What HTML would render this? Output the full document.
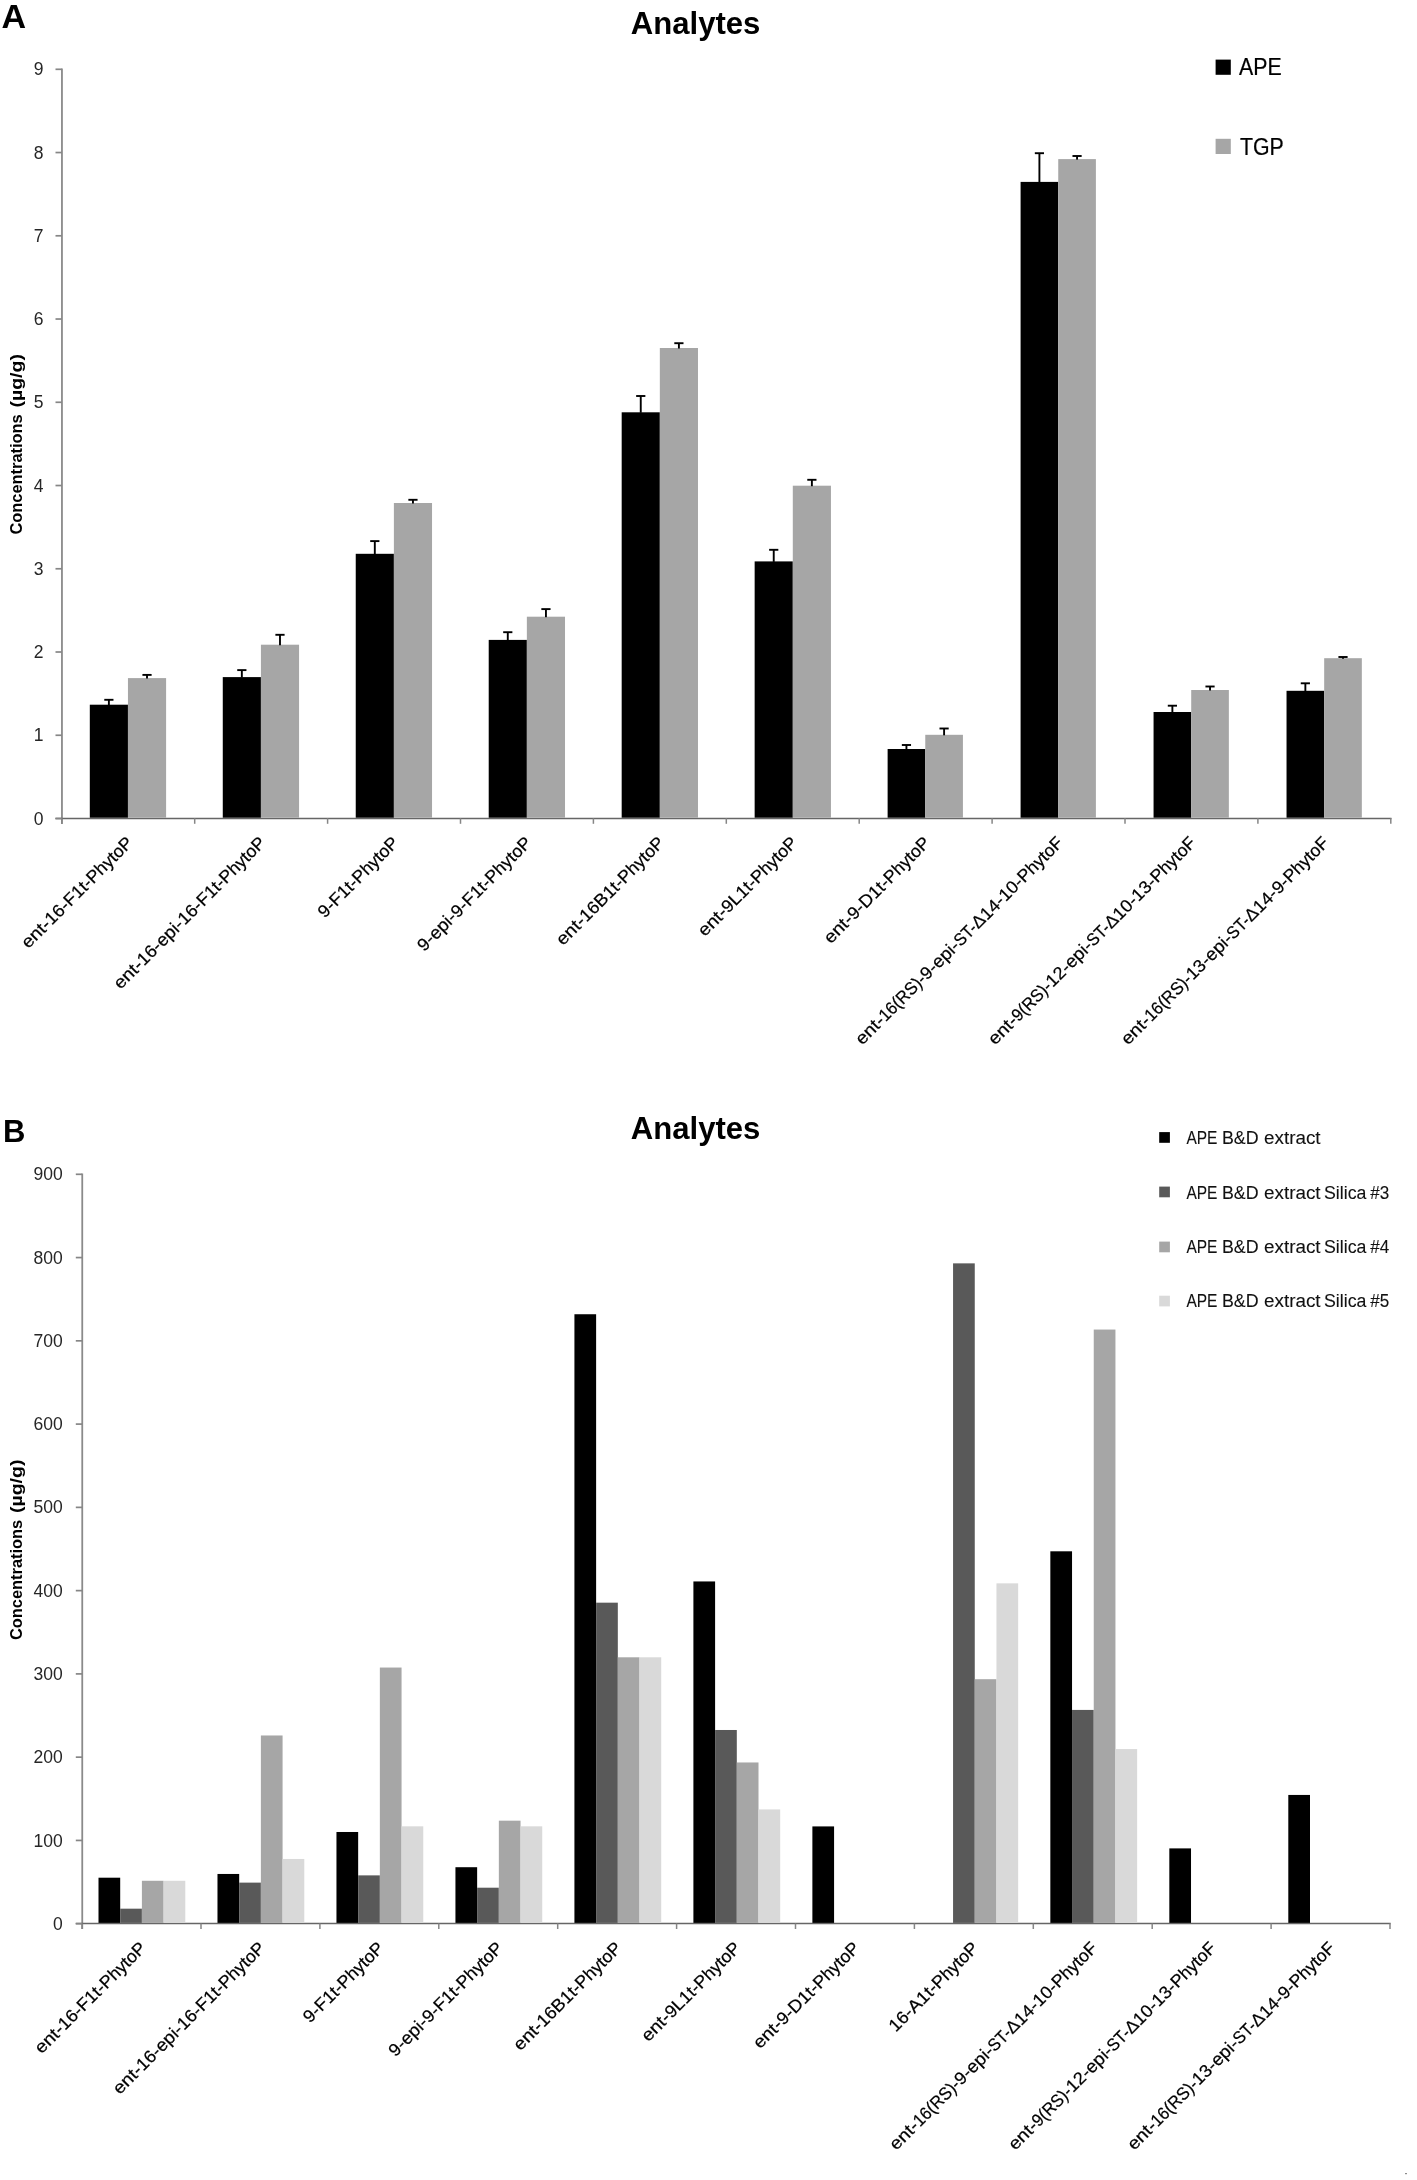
<!DOCTYPE html>
<html><head><meta charset="utf-8"><title>Analytes</title>
<style>html,body{margin:0;padding:0;background:#fff}svg{display:block;filter:grayscale(1)}text{font-family:"Liberation Sans", sans-serif}</style>
</head><body>
<svg width="1417" height="2180" viewBox="0 0 1417 2180" font-family='"Liberation Sans", sans-serif'>
<rect width="1417" height="2180" fill="#fff"/>
<text x="1.60" y="28.20" font-size="34" text-anchor="start" font-weight="bold" textLength="24.60" lengthAdjust="spacingAndGlyphs" fill="#000">A</text>
<text x="630.80" y="33.90" font-size="31" text-anchor="start" font-weight="bold" textLength="129.60" lengthAdjust="spacingAndGlyphs" fill="#000">Analytes</text>
<g transform="translate(22.10 534.50) rotate(-90)" font-size="17.1" fill="#000" font-weight="bold">
<text x="0.00" y="0" textLength="120.20" lengthAdjust="spacingAndGlyphs">Concentrations</text>
<text x="126.90" y="0" textLength="53.60" lengthAdjust="spacingAndGlyphs">(µg/g)</text>
</g>
<line x1="61.95" y1="68.40" x2="61.95" y2="823.90" stroke="#8a8a8a" stroke-width="1.8"/>
<line x1="55.40" y1="818.40" x2="1391.50" y2="818.40" stroke="#666" stroke-width="1.5"/>
<line x1="55.50" y1="818.50" x2="61.80" y2="818.50" stroke="#868686" stroke-width="1.7"/>
<text x="43.60" y="824.60" font-size="17.6" text-anchor="end" textLength="9.75" lengthAdjust="spacingAndGlyphs" fill="#262626">0</text>
<line x1="55.50" y1="735.26" x2="61.80" y2="735.26" stroke="#868686" stroke-width="1.7"/>
<text x="43.60" y="741.36" font-size="17.6" text-anchor="end" textLength="9.75" lengthAdjust="spacingAndGlyphs" fill="#262626">1</text>
<line x1="55.50" y1="652.01" x2="61.80" y2="652.01" stroke="#868686" stroke-width="1.7"/>
<text x="43.60" y="658.11" font-size="17.6" text-anchor="end" textLength="9.75" lengthAdjust="spacingAndGlyphs" fill="#262626">2</text>
<line x1="55.50" y1="568.77" x2="61.80" y2="568.77" stroke="#868686" stroke-width="1.7"/>
<text x="43.60" y="574.87" font-size="17.6" text-anchor="end" textLength="9.75" lengthAdjust="spacingAndGlyphs" fill="#262626">3</text>
<line x1="55.50" y1="485.52" x2="61.80" y2="485.52" stroke="#868686" stroke-width="1.7"/>
<text x="43.60" y="491.62" font-size="17.6" text-anchor="end" textLength="9.75" lengthAdjust="spacingAndGlyphs" fill="#262626">4</text>
<line x1="55.50" y1="402.28" x2="61.80" y2="402.28" stroke="#868686" stroke-width="1.7"/>
<text x="43.60" y="408.38" font-size="17.6" text-anchor="end" textLength="9.75" lengthAdjust="spacingAndGlyphs" fill="#262626">5</text>
<line x1="55.50" y1="319.03" x2="61.80" y2="319.03" stroke="#868686" stroke-width="1.7"/>
<text x="43.60" y="325.13" font-size="17.6" text-anchor="end" textLength="9.75" lengthAdjust="spacingAndGlyphs" fill="#262626">6</text>
<line x1="55.50" y1="235.79" x2="61.80" y2="235.79" stroke="#868686" stroke-width="1.7"/>
<text x="43.60" y="241.89" font-size="17.6" text-anchor="end" textLength="9.75" lengthAdjust="spacingAndGlyphs" fill="#262626">7</text>
<line x1="55.50" y1="152.54" x2="61.80" y2="152.54" stroke="#868686" stroke-width="1.7"/>
<text x="43.60" y="158.64" font-size="17.6" text-anchor="end" textLength="9.75" lengthAdjust="spacingAndGlyphs" fill="#262626">8</text>
<line x1="55.50" y1="69.30" x2="61.80" y2="69.30" stroke="#868686" stroke-width="1.7"/>
<text x="43.60" y="75.40" font-size="17.6" text-anchor="end" textLength="9.75" lengthAdjust="spacingAndGlyphs" fill="#262626">9</text>
<line x1="61.80" y1="818.30" x2="61.80" y2="823.80" stroke="#868686" stroke-width="1.5"/>
<line x1="194.70" y1="818.30" x2="194.70" y2="823.80" stroke="#868686" stroke-width="1.5"/>
<line x1="327.60" y1="818.30" x2="327.60" y2="823.80" stroke="#868686" stroke-width="1.5"/>
<line x1="460.50" y1="818.30" x2="460.50" y2="823.80" stroke="#868686" stroke-width="1.5"/>
<line x1="593.40" y1="818.30" x2="593.40" y2="823.80" stroke="#868686" stroke-width="1.5"/>
<line x1="726.30" y1="818.30" x2="726.30" y2="823.80" stroke="#868686" stroke-width="1.5"/>
<line x1="859.20" y1="818.30" x2="859.20" y2="823.80" stroke="#868686" stroke-width="1.5"/>
<line x1="992.10" y1="818.30" x2="992.10" y2="823.80" stroke="#868686" stroke-width="1.5"/>
<line x1="1125.00" y1="818.30" x2="1125.00" y2="823.80" stroke="#868686" stroke-width="1.5"/>
<line x1="1257.90" y1="818.30" x2="1257.90" y2="823.80" stroke="#868686" stroke-width="1.5"/>
<line x1="1390.80" y1="818.30" x2="1390.80" y2="823.80" stroke="#868686" stroke-width="1.5"/>
<rect x="89.80" y="704.70" width="38.15" height="113.00" fill="#000"/>
<line x1="108.88" y1="705.20" x2="108.88" y2="699.80" stroke="#000" stroke-width="1.9"/>
<line x1="104.28" y1="699.80" x2="113.47" y2="699.80" stroke="#000" stroke-width="1.9"/>
<rect x="127.95" y="678.10" width="38.15" height="139.60" fill="#a6a6a6"/>
<line x1="147.02" y1="678.60" x2="147.02" y2="674.90" stroke="#000" stroke-width="1.9"/>
<line x1="142.42" y1="674.90" x2="151.62" y2="674.90" stroke="#000" stroke-width="1.9"/>
<rect x="222.77" y="677.10" width="38.15" height="140.60" fill="#000"/>
<line x1="241.84" y1="677.60" x2="241.84" y2="670.10" stroke="#000" stroke-width="1.9"/>
<line x1="237.24" y1="670.10" x2="246.44" y2="670.10" stroke="#000" stroke-width="1.9"/>
<rect x="260.92" y="644.70" width="38.15" height="173.00" fill="#a6a6a6"/>
<line x1="279.99" y1="645.20" x2="279.99" y2="634.80" stroke="#000" stroke-width="1.9"/>
<line x1="275.39" y1="634.80" x2="284.59" y2="634.80" stroke="#000" stroke-width="1.9"/>
<rect x="355.74" y="553.80" width="38.15" height="263.90" fill="#000"/>
<line x1="374.81" y1="554.30" x2="374.81" y2="541.10" stroke="#000" stroke-width="1.9"/>
<line x1="370.21" y1="541.10" x2="379.42" y2="541.10" stroke="#000" stroke-width="1.9"/>
<rect x="393.89" y="503.00" width="38.15" height="314.70" fill="#a6a6a6"/>
<line x1="412.96" y1="503.50" x2="412.96" y2="499.80" stroke="#000" stroke-width="1.9"/>
<line x1="408.36" y1="499.80" x2="417.56" y2="499.80" stroke="#000" stroke-width="1.9"/>
<rect x="488.71" y="639.90" width="38.15" height="177.80" fill="#000"/>
<line x1="507.78" y1="640.40" x2="507.78" y2="632.20" stroke="#000" stroke-width="1.9"/>
<line x1="503.18" y1="632.20" x2="512.38" y2="632.20" stroke="#000" stroke-width="1.9"/>
<rect x="526.86" y="616.70" width="38.15" height="201.00" fill="#a6a6a6"/>
<line x1="545.94" y1="617.20" x2="545.94" y2="609.10" stroke="#000" stroke-width="1.9"/>
<line x1="541.34" y1="609.10" x2="550.54" y2="609.10" stroke="#000" stroke-width="1.9"/>
<rect x="621.68" y="412.30" width="38.15" height="405.40" fill="#000"/>
<line x1="640.75" y1="412.80" x2="640.75" y2="396.00" stroke="#000" stroke-width="1.9"/>
<line x1="636.15" y1="396.00" x2="645.36" y2="396.00" stroke="#000" stroke-width="1.9"/>
<rect x="659.83" y="348.00" width="38.15" height="469.70" fill="#a6a6a6"/>
<line x1="678.90" y1="348.50" x2="678.90" y2="343.20" stroke="#000" stroke-width="1.9"/>
<line x1="674.30" y1="343.20" x2="683.50" y2="343.20" stroke="#000" stroke-width="1.9"/>
<rect x="754.65" y="561.40" width="38.15" height="256.30" fill="#000"/>
<line x1="773.73" y1="561.90" x2="773.73" y2="549.80" stroke="#000" stroke-width="1.9"/>
<line x1="769.12" y1="549.80" x2="778.33" y2="549.80" stroke="#000" stroke-width="1.9"/>
<rect x="792.80" y="485.70" width="38.15" height="332.00" fill="#a6a6a6"/>
<line x1="811.88" y1="486.20" x2="811.88" y2="479.80" stroke="#000" stroke-width="1.9"/>
<line x1="807.27" y1="479.80" x2="816.48" y2="479.80" stroke="#000" stroke-width="1.9"/>
<rect x="887.62" y="749.00" width="37.65" height="68.70" fill="#000"/>
<line x1="906.44" y1="749.50" x2="906.44" y2="745.00" stroke="#000" stroke-width="1.9"/>
<line x1="901.84" y1="745.00" x2="911.04" y2="745.00" stroke="#000" stroke-width="1.9"/>
<rect x="925.27" y="734.80" width="37.65" height="82.90" fill="#a6a6a6"/>
<line x1="944.09" y1="735.30" x2="944.09" y2="728.50" stroke="#000" stroke-width="1.9"/>
<line x1="939.49" y1="728.50" x2="948.69" y2="728.50" stroke="#000" stroke-width="1.9"/>
<rect x="1020.59" y="181.90" width="37.65" height="635.80" fill="#000"/>
<line x1="1039.41" y1="182.40" x2="1039.41" y2="153.20" stroke="#000" stroke-width="1.9"/>
<line x1="1034.82" y1="153.20" x2="1044.01" y2="153.20" stroke="#000" stroke-width="1.9"/>
<rect x="1058.24" y="159.10" width="37.65" height="658.60" fill="#a6a6a6"/>
<line x1="1077.07" y1="159.60" x2="1077.07" y2="156.00" stroke="#000" stroke-width="1.9"/>
<line x1="1072.47" y1="156.00" x2="1081.66" y2="156.00" stroke="#000" stroke-width="1.9"/>
<rect x="1153.56" y="712.00" width="37.65" height="105.70" fill="#000"/>
<line x1="1172.38" y1="712.50" x2="1172.38" y2="705.70" stroke="#000" stroke-width="1.9"/>
<line x1="1167.79" y1="705.70" x2="1176.98" y2="705.70" stroke="#000" stroke-width="1.9"/>
<rect x="1191.21" y="690.00" width="37.65" height="127.70" fill="#a6a6a6"/>
<line x1="1210.04" y1="690.50" x2="1210.04" y2="686.50" stroke="#000" stroke-width="1.9"/>
<line x1="1205.44" y1="686.50" x2="1214.63" y2="686.50" stroke="#000" stroke-width="1.9"/>
<rect x="1286.53" y="690.80" width="37.65" height="126.90" fill="#000"/>
<line x1="1305.36" y1="691.30" x2="1305.36" y2="683.30" stroke="#000" stroke-width="1.9"/>
<line x1="1300.76" y1="683.30" x2="1309.95" y2="683.30" stroke="#000" stroke-width="1.9"/>
<rect x="1324.18" y="658.20" width="37.65" height="159.50" fill="#a6a6a6"/>
<line x1="1343.01" y1="658.70" x2="1343.01" y2="657.00" stroke="#000" stroke-width="1.9"/>
<line x1="1338.41" y1="657.00" x2="1347.61" y2="657.00" stroke="#000" stroke-width="1.9"/>
<g transform="translate(133.85 843.80) rotate(-45)" font-size="17.6" fill="#000" stroke="#000" stroke-width="0.22">
<text x="-149.30" y="0" textLength="33.28" lengthAdjust="spacingAndGlyphs">ent-</text>
<text x="-116.02" y="0" textLength="26.40" lengthAdjust="spacingAndGlyphs">16-</text>
<text x="-89.62" y="0" textLength="32.14" lengthAdjust="spacingAndGlyphs">F1t-</text>
<text x="-57.48" y="0" textLength="57.48" lengthAdjust="spacingAndGlyphs">PhytoP</text>
</g>
<g transform="translate(266.75 843.80) rotate(-45)" font-size="17.6" fill="#000" stroke="#000" stroke-width="0.22">
<text x="-206.86" y="0" textLength="33.28" lengthAdjust="spacingAndGlyphs">ent-</text>
<text x="-173.58" y="0" textLength="26.40" lengthAdjust="spacingAndGlyphs">16-</text>
<text x="-147.18" y="0" textLength="31.16" lengthAdjust="spacingAndGlyphs">epi-</text>
<text x="-116.02" y="0" textLength="26.40" lengthAdjust="spacingAndGlyphs">16-</text>
<text x="-89.62" y="0" textLength="32.14" lengthAdjust="spacingAndGlyphs">F1t-</text>
<text x="-57.48" y="0" textLength="57.48" lengthAdjust="spacingAndGlyphs">PhytoP</text>
</g>
<g transform="translate(399.65 843.80) rotate(-45)" font-size="17.6" fill="#000" stroke="#000" stroke-width="0.22">
<text x="-105.88" y="0" textLength="16.26" lengthAdjust="spacingAndGlyphs">9-</text>
<text x="-89.62" y="0" textLength="32.14" lengthAdjust="spacingAndGlyphs">F1t-</text>
<text x="-57.48" y="0" textLength="57.48" lengthAdjust="spacingAndGlyphs">PhytoP</text>
</g>
<g transform="translate(532.55 843.80) rotate(-45)" font-size="17.6" fill="#000" stroke="#000" stroke-width="0.22">
<text x="-153.30" y="0" textLength="16.26" lengthAdjust="spacingAndGlyphs">9-</text>
<text x="-137.04" y="0" textLength="31.16" lengthAdjust="spacingAndGlyphs">epi-</text>
<text x="-105.88" y="0" textLength="16.26" lengthAdjust="spacingAndGlyphs">9-</text>
<text x="-89.62" y="0" textLength="32.14" lengthAdjust="spacingAndGlyphs">F1t-</text>
<text x="-57.48" y="0" textLength="57.48" lengthAdjust="spacingAndGlyphs">PhytoP</text>
</g>
<g transform="translate(665.45 843.80) rotate(-45)" font-size="17.6" fill="#000" stroke="#000" stroke-width="0.22">
<text x="-144.88" y="0" textLength="33.28" lengthAdjust="spacingAndGlyphs">ent-</text>
<text x="-111.60" y="0" textLength="54.12" lengthAdjust="spacingAndGlyphs">16B1t-</text>
<text x="-57.48" y="0" textLength="57.48" lengthAdjust="spacingAndGlyphs">PhytoP</text>
</g>
<g transform="translate(798.35 843.80) rotate(-45)" font-size="17.6" fill="#000" stroke="#000" stroke-width="0.22">
<text x="-132.26" y="0" textLength="33.28" lengthAdjust="spacingAndGlyphs">ent-</text>
<text x="-98.98" y="0" textLength="41.50" lengthAdjust="spacingAndGlyphs">9L1t-</text>
<text x="-57.48" y="0" textLength="57.48" lengthAdjust="spacingAndGlyphs">PhytoP</text>
</g>
<g transform="translate(931.25 843.80) rotate(-45)" font-size="17.6" fill="#000" stroke="#000" stroke-width="0.22">
<text x="-142.28" y="0" textLength="33.28" lengthAdjust="spacingAndGlyphs">ent-</text>
<text x="-109.00" y="0" textLength="16.26" lengthAdjust="spacingAndGlyphs">9-</text>
<text x="-92.74" y="0" textLength="35.26" lengthAdjust="spacingAndGlyphs">D1t-</text>
<text x="-57.48" y="0" textLength="57.48" lengthAdjust="spacingAndGlyphs">PhytoP</text>
</g>
<g transform="translate(1064.15 843.80) rotate(-45)" font-size="17.6" fill="#000" stroke="#000" stroke-width="0.22">
<text x="-285.66" y="0" textLength="33.28" lengthAdjust="spacingAndGlyphs">ent-</text>
<text x="-252.38" y="0" textLength="58.56" lengthAdjust="spacingAndGlyphs">16(RS)-</text>
<text x="-193.82" y="0" textLength="16.26" lengthAdjust="spacingAndGlyphs">9-</text>
<text x="-177.56" y="0" textLength="31.16" lengthAdjust="spacingAndGlyphs">epi-</text>
<text x="-146.40" y="0" textLength="25.04" lengthAdjust="spacingAndGlyphs">ST-</text>
<text x="-121.36" y="0" textLength="38.64" lengthAdjust="spacingAndGlyphs">Δ14-</text>
<text x="-82.72" y="0" textLength="26.40" lengthAdjust="spacingAndGlyphs">10-</text>
<text x="-56.32" y="0" textLength="56.32" lengthAdjust="spacingAndGlyphs">PhytoF</text>
</g>
<g transform="translate(1197.05 843.80) rotate(-45)" font-size="17.6" fill="#000" stroke="#000" stroke-width="0.22">
<text x="-285.66" y="0" textLength="33.28" lengthAdjust="spacingAndGlyphs">ent-</text>
<text x="-252.38" y="0" textLength="48.42" lengthAdjust="spacingAndGlyphs">9(RS)-</text>
<text x="-203.96" y="0" textLength="26.40" lengthAdjust="spacingAndGlyphs">12-</text>
<text x="-177.56" y="0" textLength="31.16" lengthAdjust="spacingAndGlyphs">epi-</text>
<text x="-146.40" y="0" textLength="25.04" lengthAdjust="spacingAndGlyphs">ST-</text>
<text x="-121.36" y="0" textLength="38.64" lengthAdjust="spacingAndGlyphs">Δ10-</text>
<text x="-82.72" y="0" textLength="26.40" lengthAdjust="spacingAndGlyphs">13-</text>
<text x="-56.32" y="0" textLength="56.32" lengthAdjust="spacingAndGlyphs">PhytoF</text>
</g>
<g transform="translate(1329.95 843.80) rotate(-45)" font-size="17.6" fill="#000" stroke="#000" stroke-width="0.22">
<text x="-285.66" y="0" textLength="33.28" lengthAdjust="spacingAndGlyphs">ent-</text>
<text x="-252.38" y="0" textLength="58.56" lengthAdjust="spacingAndGlyphs">16(RS)-</text>
<text x="-193.82" y="0" textLength="26.40" lengthAdjust="spacingAndGlyphs">13-</text>
<text x="-167.42" y="0" textLength="31.16" lengthAdjust="spacingAndGlyphs">epi-</text>
<text x="-136.26" y="0" textLength="25.04" lengthAdjust="spacingAndGlyphs">ST-</text>
<text x="-111.22" y="0" textLength="38.64" lengthAdjust="spacingAndGlyphs">Δ14-</text>
<text x="-72.58" y="0" textLength="16.26" lengthAdjust="spacingAndGlyphs">9-</text>
<text x="-56.32" y="0" textLength="56.32" lengthAdjust="spacingAndGlyphs">PhytoF</text>
</g>
<rect x="1215.60" y="59.60" width="15.20" height="15.20" fill="#000"/>
<text x="1239.00" y="74.90" font-size="23.3" text-anchor="start" stroke="#000" stroke-width="0.22" textLength="42.60" lengthAdjust="spacingAndGlyphs" fill="#000">APE</text>
<rect x="1215.60" y="138.80" width="15.20" height="15.20" fill="#a6a6a6"/>
<text x="1240.00" y="154.50" font-size="23.3" text-anchor="start" stroke="#000" stroke-width="0.22" textLength="43.80" lengthAdjust="spacingAndGlyphs" fill="#000">TGP</text>
<text x="3.00" y="1142.10" font-size="31" text-anchor="start" font-weight="bold" fill="#000">B</text>
<text x="630.80" y="1139.20" font-size="31" text-anchor="start" font-weight="bold" textLength="129.60" lengthAdjust="spacingAndGlyphs" fill="#000">Analytes</text>
<g transform="translate(22.20 1640.00) rotate(-90)" font-size="17.1" fill="#000" font-weight="bold">
<text x="0.00" y="0" textLength="120.20" lengthAdjust="spacingAndGlyphs">Concentrations</text>
<text x="126.90" y="0" textLength="53.60" lengthAdjust="spacingAndGlyphs">(µg/g)</text>
</g>
<line x1="82.25" y1="1173.40" x2="82.25" y2="1929.10" stroke="#8a8a8a" stroke-width="1.8"/>
<line x1="75.70" y1="1923.60" x2="1390.70" y2="1923.60" stroke="#666" stroke-width="1.5"/>
<line x1="75.80" y1="1923.70" x2="82.10" y2="1923.70" stroke="#868686" stroke-width="1.7"/>
<text x="62.80" y="1929.80" font-size="17.6" text-anchor="end" textLength="9.75" lengthAdjust="spacingAndGlyphs" fill="#262626">0</text>
<line x1="75.80" y1="1840.43" x2="82.10" y2="1840.43" stroke="#868686" stroke-width="1.7"/>
<text x="62.80" y="1846.53" font-size="17.6" text-anchor="end" textLength="29.25" lengthAdjust="spacingAndGlyphs" fill="#262626">100</text>
<line x1="75.80" y1="1757.17" x2="82.10" y2="1757.17" stroke="#868686" stroke-width="1.7"/>
<text x="62.80" y="1763.27" font-size="17.6" text-anchor="end" textLength="29.25" lengthAdjust="spacingAndGlyphs" fill="#262626">200</text>
<line x1="75.80" y1="1673.90" x2="82.10" y2="1673.90" stroke="#868686" stroke-width="1.7"/>
<text x="62.80" y="1680.00" font-size="17.6" text-anchor="end" textLength="29.25" lengthAdjust="spacingAndGlyphs" fill="#262626">300</text>
<line x1="75.80" y1="1590.63" x2="82.10" y2="1590.63" stroke="#868686" stroke-width="1.7"/>
<text x="62.80" y="1596.73" font-size="17.6" text-anchor="end" textLength="29.25" lengthAdjust="spacingAndGlyphs" fill="#262626">400</text>
<line x1="75.80" y1="1507.37" x2="82.10" y2="1507.37" stroke="#868686" stroke-width="1.7"/>
<text x="62.80" y="1513.47" font-size="17.6" text-anchor="end" textLength="29.25" lengthAdjust="spacingAndGlyphs" fill="#262626">500</text>
<line x1="75.80" y1="1424.10" x2="82.10" y2="1424.10" stroke="#868686" stroke-width="1.7"/>
<text x="62.80" y="1430.20" font-size="17.6" text-anchor="end" textLength="29.25" lengthAdjust="spacingAndGlyphs" fill="#262626">600</text>
<line x1="75.80" y1="1340.83" x2="82.10" y2="1340.83" stroke="#868686" stroke-width="1.7"/>
<text x="62.80" y="1346.93" font-size="17.6" text-anchor="end" textLength="29.25" lengthAdjust="spacingAndGlyphs" fill="#262626">700</text>
<line x1="75.80" y1="1257.57" x2="82.10" y2="1257.57" stroke="#868686" stroke-width="1.7"/>
<text x="62.80" y="1263.67" font-size="17.6" text-anchor="end" textLength="29.25" lengthAdjust="spacingAndGlyphs" fill="#262626">800</text>
<line x1="75.80" y1="1174.30" x2="82.10" y2="1174.30" stroke="#868686" stroke-width="1.7"/>
<text x="62.80" y="1180.40" font-size="17.6" text-anchor="end" textLength="29.25" lengthAdjust="spacingAndGlyphs" fill="#262626">900</text>
<line x1="82.10" y1="1923.50" x2="82.10" y2="1929.00" stroke="#868686" stroke-width="1.5"/>
<line x1="201.00" y1="1923.50" x2="201.00" y2="1929.00" stroke="#868686" stroke-width="1.5"/>
<line x1="319.90" y1="1923.50" x2="319.90" y2="1929.00" stroke="#868686" stroke-width="1.5"/>
<line x1="438.80" y1="1923.50" x2="438.80" y2="1929.00" stroke="#868686" stroke-width="1.5"/>
<line x1="557.70" y1="1923.50" x2="557.70" y2="1929.00" stroke="#868686" stroke-width="1.5"/>
<line x1="676.60" y1="1923.50" x2="676.60" y2="1929.00" stroke="#868686" stroke-width="1.5"/>
<line x1="795.50" y1="1923.50" x2="795.50" y2="1929.00" stroke="#868686" stroke-width="1.5"/>
<line x1="914.40" y1="1923.50" x2="914.40" y2="1929.00" stroke="#868686" stroke-width="1.5"/>
<line x1="1033.30" y1="1923.50" x2="1033.30" y2="1929.00" stroke="#868686" stroke-width="1.5"/>
<line x1="1152.20" y1="1923.50" x2="1152.20" y2="1929.00" stroke="#868686" stroke-width="1.5"/>
<line x1="1271.10" y1="1923.50" x2="1271.10" y2="1929.00" stroke="#868686" stroke-width="1.5"/>
<line x1="1390.00" y1="1923.50" x2="1390.00" y2="1929.00" stroke="#868686" stroke-width="1.5"/>
<rect x="98.50" y="1877.70" width="21.70" height="45.20" fill="#000"/>
<rect x="120.20" y="1908.68" width="21.70" height="14.22" fill="#595959"/>
<rect x="141.90" y="1880.78" width="21.70" height="42.12" fill="#a6a6a6"/>
<rect x="163.60" y="1880.78" width="21.70" height="42.12" fill="#d9d9d9"/>
<rect x="217.48" y="1873.96" width="21.70" height="48.94" fill="#000"/>
<rect x="239.18" y="1882.62" width="21.70" height="40.28" fill="#595959"/>
<rect x="260.88" y="1735.48" width="21.70" height="187.42" fill="#a6a6a6"/>
<rect x="282.58" y="1858.97" width="21.70" height="63.93" fill="#d9d9d9"/>
<rect x="336.46" y="1831.99" width="21.70" height="90.91" fill="#000"/>
<rect x="358.16" y="1875.37" width="21.70" height="47.53" fill="#595959"/>
<rect x="379.86" y="1667.54" width="21.70" height="255.36" fill="#a6a6a6"/>
<rect x="401.56" y="1826.33" width="21.70" height="96.57" fill="#d9d9d9"/>
<rect x="455.44" y="1867.21" width="21.70" height="55.69" fill="#000"/>
<rect x="477.14" y="1887.70" width="21.70" height="35.20" fill="#595959"/>
<rect x="498.84" y="1820.67" width="21.70" height="102.23" fill="#a6a6a6"/>
<rect x="520.54" y="1826.33" width="21.70" height="96.57" fill="#d9d9d9"/>
<rect x="574.42" y="1314.24" width="21.70" height="608.66" fill="#000"/>
<rect x="596.12" y="1602.67" width="21.70" height="320.23" fill="#595959"/>
<rect x="617.82" y="1657.30" width="21.70" height="265.60" fill="#a6a6a6"/>
<rect x="639.52" y="1657.30" width="21.70" height="265.60" fill="#d9d9d9"/>
<rect x="693.40" y="1581.44" width="21.70" height="341.46" fill="#000"/>
<rect x="715.10" y="1729.99" width="21.70" height="192.91" fill="#595959"/>
<rect x="736.80" y="1762.46" width="21.70" height="160.44" fill="#a6a6a6"/>
<rect x="758.50" y="1809.42" width="21.70" height="113.48" fill="#d9d9d9"/>
<rect x="812.38" y="1826.41" width="21.70" height="96.49" fill="#000"/>
<rect x="953.06" y="1263.36" width="21.70" height="659.54" fill="#595959"/>
<rect x="974.76" y="1679.20" width="21.70" height="243.70" fill="#a6a6a6"/>
<rect x="996.46" y="1583.36" width="21.70" height="339.54" fill="#d9d9d9"/>
<rect x="1050.34" y="1551.30" width="21.70" height="371.60" fill="#000"/>
<rect x="1072.04" y="1709.92" width="21.70" height="212.98" fill="#595959"/>
<rect x="1093.74" y="1329.56" width="21.70" height="593.34" fill="#a6a6a6"/>
<rect x="1115.44" y="1749.06" width="21.70" height="173.84" fill="#d9d9d9"/>
<rect x="1169.32" y="1848.39" width="21.70" height="74.51" fill="#000"/>
<rect x="1288.30" y="1794.94" width="21.70" height="127.96" fill="#000"/>
<g transform="translate(147.15 1949.00) rotate(-45)" font-size="17.6" fill="#000" stroke="#000" stroke-width="0.22">
<text x="-149.30" y="0" textLength="33.28" lengthAdjust="spacingAndGlyphs">ent-</text>
<text x="-116.02" y="0" textLength="26.40" lengthAdjust="spacingAndGlyphs">16-</text>
<text x="-89.62" y="0" textLength="32.14" lengthAdjust="spacingAndGlyphs">F1t-</text>
<text x="-57.48" y="0" textLength="57.48" lengthAdjust="spacingAndGlyphs">PhytoP</text>
</g>
<g transform="translate(266.05 1949.00) rotate(-45)" font-size="17.6" fill="#000" stroke="#000" stroke-width="0.22">
<text x="-206.86" y="0" textLength="33.28" lengthAdjust="spacingAndGlyphs">ent-</text>
<text x="-173.58" y="0" textLength="26.40" lengthAdjust="spacingAndGlyphs">16-</text>
<text x="-147.18" y="0" textLength="31.16" lengthAdjust="spacingAndGlyphs">epi-</text>
<text x="-116.02" y="0" textLength="26.40" lengthAdjust="spacingAndGlyphs">16-</text>
<text x="-89.62" y="0" textLength="32.14" lengthAdjust="spacingAndGlyphs">F1t-</text>
<text x="-57.48" y="0" textLength="57.48" lengthAdjust="spacingAndGlyphs">PhytoP</text>
</g>
<g transform="translate(384.95 1949.00) rotate(-45)" font-size="17.6" fill="#000" stroke="#000" stroke-width="0.22">
<text x="-105.88" y="0" textLength="16.26" lengthAdjust="spacingAndGlyphs">9-</text>
<text x="-89.62" y="0" textLength="32.14" lengthAdjust="spacingAndGlyphs">F1t-</text>
<text x="-57.48" y="0" textLength="57.48" lengthAdjust="spacingAndGlyphs">PhytoP</text>
</g>
<g transform="translate(503.85 1949.00) rotate(-45)" font-size="17.6" fill="#000" stroke="#000" stroke-width="0.22">
<text x="-153.30" y="0" textLength="16.26" lengthAdjust="spacingAndGlyphs">9-</text>
<text x="-137.04" y="0" textLength="31.16" lengthAdjust="spacingAndGlyphs">epi-</text>
<text x="-105.88" y="0" textLength="16.26" lengthAdjust="spacingAndGlyphs">9-</text>
<text x="-89.62" y="0" textLength="32.14" lengthAdjust="spacingAndGlyphs">F1t-</text>
<text x="-57.48" y="0" textLength="57.48" lengthAdjust="spacingAndGlyphs">PhytoP</text>
</g>
<g transform="translate(622.75 1949.00) rotate(-45)" font-size="17.6" fill="#000" stroke="#000" stroke-width="0.22">
<text x="-144.88" y="0" textLength="33.28" lengthAdjust="spacingAndGlyphs">ent-</text>
<text x="-111.60" y="0" textLength="54.12" lengthAdjust="spacingAndGlyphs">16B1t-</text>
<text x="-57.48" y="0" textLength="57.48" lengthAdjust="spacingAndGlyphs">PhytoP</text>
</g>
<g transform="translate(741.65 1949.00) rotate(-45)" font-size="17.6" fill="#000" stroke="#000" stroke-width="0.22">
<text x="-132.26" y="0" textLength="33.28" lengthAdjust="spacingAndGlyphs">ent-</text>
<text x="-98.98" y="0" textLength="41.50" lengthAdjust="spacingAndGlyphs">9L1t-</text>
<text x="-57.48" y="0" textLength="57.48" lengthAdjust="spacingAndGlyphs">PhytoP</text>
</g>
<g transform="translate(860.55 1949.00) rotate(-45)" font-size="17.6" fill="#000" stroke="#000" stroke-width="0.22">
<text x="-142.28" y="0" textLength="33.28" lengthAdjust="spacingAndGlyphs">ent-</text>
<text x="-109.00" y="0" textLength="16.26" lengthAdjust="spacingAndGlyphs">9-</text>
<text x="-92.74" y="0" textLength="35.26" lengthAdjust="spacingAndGlyphs">D1t-</text>
<text x="-57.48" y="0" textLength="57.48" lengthAdjust="spacingAndGlyphs">PhytoP</text>
</g>
<g transform="translate(979.45 1949.00) rotate(-45)" font-size="17.6" fill="#000" stroke="#000" stroke-width="0.22">
<text x="-118.42" y="0" textLength="26.40" lengthAdjust="spacingAndGlyphs">16-</text>
<text x="-92.02" y="0" textLength="34.54" lengthAdjust="spacingAndGlyphs">A1t-</text>
<text x="-57.48" y="0" textLength="57.48" lengthAdjust="spacingAndGlyphs">PhytoP</text>
</g>
<g transform="translate(1098.35 1949.00) rotate(-45)" font-size="17.6" fill="#000" stroke="#000" stroke-width="0.22">
<text x="-285.66" y="0" textLength="33.28" lengthAdjust="spacingAndGlyphs">ent-</text>
<text x="-252.38" y="0" textLength="58.56" lengthAdjust="spacingAndGlyphs">16(RS)-</text>
<text x="-193.82" y="0" textLength="16.26" lengthAdjust="spacingAndGlyphs">9-</text>
<text x="-177.56" y="0" textLength="31.16" lengthAdjust="spacingAndGlyphs">epi-</text>
<text x="-146.40" y="0" textLength="25.04" lengthAdjust="spacingAndGlyphs">ST-</text>
<text x="-121.36" y="0" textLength="38.64" lengthAdjust="spacingAndGlyphs">Δ14-</text>
<text x="-82.72" y="0" textLength="26.40" lengthAdjust="spacingAndGlyphs">10-</text>
<text x="-56.32" y="0" textLength="56.32" lengthAdjust="spacingAndGlyphs">PhytoF</text>
</g>
<g transform="translate(1217.25 1949.00) rotate(-45)" font-size="17.6" fill="#000" stroke="#000" stroke-width="0.22">
<text x="-285.66" y="0" textLength="33.28" lengthAdjust="spacingAndGlyphs">ent-</text>
<text x="-252.38" y="0" textLength="48.42" lengthAdjust="spacingAndGlyphs">9(RS)-</text>
<text x="-203.96" y="0" textLength="26.40" lengthAdjust="spacingAndGlyphs">12-</text>
<text x="-177.56" y="0" textLength="31.16" lengthAdjust="spacingAndGlyphs">epi-</text>
<text x="-146.40" y="0" textLength="25.04" lengthAdjust="spacingAndGlyphs">ST-</text>
<text x="-121.36" y="0" textLength="38.64" lengthAdjust="spacingAndGlyphs">Δ10-</text>
<text x="-82.72" y="0" textLength="26.40" lengthAdjust="spacingAndGlyphs">13-</text>
<text x="-56.32" y="0" textLength="56.32" lengthAdjust="spacingAndGlyphs">PhytoF</text>
</g>
<g transform="translate(1336.15 1949.00) rotate(-45)" font-size="17.6" fill="#000" stroke="#000" stroke-width="0.22">
<text x="-285.66" y="0" textLength="33.28" lengthAdjust="spacingAndGlyphs">ent-</text>
<text x="-252.38" y="0" textLength="58.56" lengthAdjust="spacingAndGlyphs">16(RS)-</text>
<text x="-193.82" y="0" textLength="26.40" lengthAdjust="spacingAndGlyphs">13-</text>
<text x="-167.42" y="0" textLength="31.16" lengthAdjust="spacingAndGlyphs">epi-</text>
<text x="-136.26" y="0" textLength="25.04" lengthAdjust="spacingAndGlyphs">ST-</text>
<text x="-111.22" y="0" textLength="38.64" lengthAdjust="spacingAndGlyphs">Δ14-</text>
<text x="-72.58" y="0" textLength="16.26" lengthAdjust="spacingAndGlyphs">9-</text>
<text x="-56.32" y="0" textLength="56.32" lengthAdjust="spacingAndGlyphs">PhytoF</text>
</g>
<rect x="1159.20" y="1132.10" width="10.70" height="10.70" fill="#000"/>
<text x="1186.40" y="1144.20" font-size="17.5" text-anchor="start" stroke="#111" stroke-width="0.1" textLength="31.00" lengthAdjust="spacingAndGlyphs" fill="#111">APE</text>
<text x="1221.90" y="1144.20" font-size="17.5" text-anchor="start" stroke="#111" stroke-width="0.1" textLength="36.60" lengthAdjust="spacingAndGlyphs" fill="#111">B&amp;D</text>
<text x="1264.00" y="1144.20" font-size="17.5" text-anchor="start" stroke="#111" stroke-width="0.1" textLength="56.60" lengthAdjust="spacingAndGlyphs" fill="#111">extract</text>
<rect x="1159.20" y="1186.60" width="10.70" height="10.70" fill="#595959"/>
<text x="1186.40" y="1199.30" font-size="17.5" text-anchor="start" stroke="#111" stroke-width="0.1" textLength="31.00" lengthAdjust="spacingAndGlyphs" fill="#111">APE</text>
<text x="1221.90" y="1199.30" font-size="17.5" text-anchor="start" stroke="#111" stroke-width="0.1" textLength="36.60" lengthAdjust="spacingAndGlyphs" fill="#111">B&amp;D</text>
<text x="1264.00" y="1199.30" font-size="17.5" text-anchor="start" stroke="#111" stroke-width="0.1" textLength="56.60" lengthAdjust="spacingAndGlyphs" fill="#111">extract</text>
<text x="1324.00" y="1199.30" font-size="17.5" text-anchor="start" stroke="#111" stroke-width="0.1" textLength="42.40" lengthAdjust="spacingAndGlyphs" fill="#111">Silica</text>
<text x="1370.20" y="1199.30" font-size="17.5" text-anchor="start" stroke="#111" stroke-width="0.1" textLength="19.00" lengthAdjust="spacingAndGlyphs" fill="#111">#3</text>
<rect x="1159.20" y="1241.60" width="10.70" height="10.70" fill="#a6a6a6"/>
<text x="1186.40" y="1253.30" font-size="17.5" text-anchor="start" stroke="#111" stroke-width="0.1" textLength="31.00" lengthAdjust="spacingAndGlyphs" fill="#111">APE</text>
<text x="1221.90" y="1253.30" font-size="17.5" text-anchor="start" stroke="#111" stroke-width="0.1" textLength="36.60" lengthAdjust="spacingAndGlyphs" fill="#111">B&amp;D</text>
<text x="1264.00" y="1253.30" font-size="17.5" text-anchor="start" stroke="#111" stroke-width="0.1" textLength="56.60" lengthAdjust="spacingAndGlyphs" fill="#111">extract</text>
<text x="1324.00" y="1253.30" font-size="17.5" text-anchor="start" stroke="#111" stroke-width="0.1" textLength="42.40" lengthAdjust="spacingAndGlyphs" fill="#111">Silica</text>
<text x="1370.20" y="1253.30" font-size="17.5" text-anchor="start" stroke="#111" stroke-width="0.1" textLength="19.00" lengthAdjust="spacingAndGlyphs" fill="#111">#4</text>
<rect x="1159.20" y="1295.70" width="10.70" height="10.70" fill="#d9d9d9"/>
<text x="1186.40" y="1307.40" font-size="17.5" text-anchor="start" stroke="#111" stroke-width="0.1" textLength="31.00" lengthAdjust="spacingAndGlyphs" fill="#111">APE</text>
<text x="1221.90" y="1307.40" font-size="17.5" text-anchor="start" stroke="#111" stroke-width="0.1" textLength="36.60" lengthAdjust="spacingAndGlyphs" fill="#111">B&amp;D</text>
<text x="1264.00" y="1307.40" font-size="17.5" text-anchor="start" stroke="#111" stroke-width="0.1" textLength="56.60" lengthAdjust="spacingAndGlyphs" fill="#111">extract</text>
<text x="1324.00" y="1307.40" font-size="17.5" text-anchor="start" stroke="#111" stroke-width="0.1" textLength="42.40" lengthAdjust="spacingAndGlyphs" fill="#111">Silica</text>
<text x="1370.20" y="1307.40" font-size="17.5" text-anchor="start" stroke="#111" stroke-width="0.1" textLength="19.00" lengthAdjust="spacingAndGlyphs" fill="#111">#5</text>
<rect x="1405.00" y="2173.00" width="2.00" height="1.20" fill="#8c8c8c"/>
</svg>
</body></html>
